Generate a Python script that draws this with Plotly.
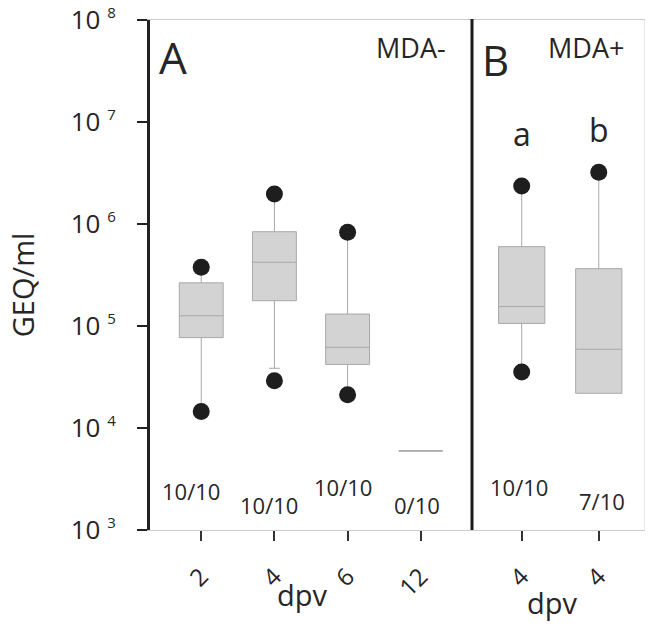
import plotly.graph_objects as go

# ---------------- data ----------------
a_dpv = ["2", "4", "6", "12"]
a_q1 = [7.7e4, 1.77e5, 4.2e4, 5.96e3]
a_median = [1.26e5, 4.22e5, 6.18e4, 5.96e3]
a_q3 = [2.65e5, 8.4e5, 1.31e5, 5.96e3]
a_whisker_low = [1.45e4, 3.85e4, 2.12e4, 5.96e3]
a_whisker_high = [3.77e5, 1.97e6, 8.3e5, 5.96e3]
a_dot_low = [1.45e4, 2.91e4, 2.12e4, None]
a_dot_high = [3.77e5, 1.97e6, 8.3e5, None]
a_counts = ["10/10", "10/10", "10/10", "0/10"]

b_dpv = ["4", "4"]
b_q1 = [1.06e5, 2.19e4]
b_median = [1.55e5, 5.92e4]
b_q3 = [6.0e5, 3.65e5]
b_whisker_low = [3.54e4, 2.19e4]
b_whisker_high = [2.36e6, 3.21e6]
b_dot_low = [3.54e4, None]
b_dot_high = [2.36e6, 3.21e6]
b_counts = ["10/10", "7/10"]
b_letters = ["a", "b"]

y_tick_vals = [1e3, 1e4, 1e5, 1e6, 1e7, 1e8]
y_tick_exponents = ["3", "4", "5", "6", "7", "8"]

# ---------------- style ----------------
FONT = "Open Sans"
TXT = "#262626"
BOX_FILL = "#d3d3d3"
BOX_LINE = "#a8a8a8"
DOT = "#1e1e1e"
SPLIT = 0.6505

y_tick_text = ["10 <sup><span style='font-size:15px'>%s</span></sup>" % e
               for e in y_tick_exponents]

fig = go.Figure()


def add_panel(xa, ya, q1, med, q3, lo, hi, dlo, dhi, caps):
    for i in range(len(q1)):
        fig.add_trace(go.Box(
            x=[i], q1=[q1[i]], median=[med[i]], q3=[q3[i]],
            lowerfence=[lo[i]], upperfence=[hi[i]],
            width=0.6, whiskerwidth=caps[i],
            fillcolor=BOX_FILL, line=dict(color=BOX_LINE, width=1),
            xaxis=xa, yaxis=ya, showlegend=False, hoverinfo="skip"))
    xs, ys = [], []
    for i in range(len(q1)):
        for v in (dlo[i], dhi[i]):
            if v is not None:
                xs.append(i)
                ys.append(v)
    fig.add_trace(go.Scatter(x=xs, y=ys, mode="markers",
                             marker=dict(size=17, color=DOT),
                             xaxis=xa, yaxis=ya, showlegend=False,
                             hoverinfo="skip"))


add_panel("x", "y", a_q1, a_median, a_q3, a_whisker_low, a_whisker_high,
          a_dot_low, a_dot_high, [0, 0.25, 0, 0])
add_panel("x2", "y2", b_q1, b_median, b_q3, b_whisker_low, b_whisker_high,
          b_dot_low, b_dot_high, [0, 0])

xcommon = dict(ticks="outside", ticklen=10, tickwidth=2, tickcolor="#333",
               showline=True, linecolor="#cccccc", linewidth=1, mirror=True,
               showgrid=False, zeroline=False, tickangle=-45,
               tickfont=dict(size=24, color=TXT, family=FONT),
               ticklabelstandoff=12, automargin=False,
               ticklabeloverflow="allow")

# the page body has an 8px margin, so the figure is 8px smaller
fig.update_layout(
    width=645, height=620,
    margin=dict(l=142, r=8, t=12, b=98),
    paper_bgcolor="white", plot_bgcolor="white",
    font=dict(family=FONT, color=TXT),
    boxmode="overlay",
    xaxis=dict(domain=[0, SPLIT], range=[-0.7, 3.7],
               tickvals=list(range(len(a_dpv))), ticktext=a_dpv, anchor="y",
               **xcommon),
    xaxis2=dict(domain=[SPLIT, 1], range=[-0.645, 1.6],
                tickvals=list(range(len(b_dpv))), ticktext=b_dpv, anchor="y2",
                **xcommon),
    yaxis=dict(type="log", range=[3, 8], tickvals=y_tick_vals,
               ticktext=y_tick_text, ticks="outside", ticklen=10, tickwidth=2,
               tickcolor="#222", showline=True, linecolor="#222", linewidth=3,
               showgrid=False, zeroline=False, ticklabelstandoff=16,
               automargin=False, ticklabeloverflow="allow",
               tickfont=dict(size=26, color=TXT, family=FONT), anchor="x"),
    yaxis2=dict(type="log", range=[3, 8], matches="y", anchor="x2",
                showticklabels=False, showgrid=False, zeroline=False,
                showline=False, ticks="", automargin=False),
)

# panel divider and right border
fig.add_shape(type="line", xref="paper", yref="paper", x0=SPLIT, x1=SPLIT,
              y0=0, y1=1.002, line=dict(color="#1a1a1a", width=3))
fig.add_shape(type="line", xref="paper", yref="paper", x0=1, x1=1,
              y0=0, y1=1, line=dict(color="#cccccc", width=1))


def ann(text, x, y, size, xref="paper", yref="paper", angle=0, xshift=0):
    fig.add_annotation(text=text, x=x, y=y, xref=xref, yref=yref,
                       showarrow=False, textangle=angle, xshift=xshift,
                       font=dict(size=size, color=TXT, family=FONT),
                       xanchor="center", yanchor="middle")


ann("GEQ/ml", -0.2585, 0.48, 29, angle=-90)
ann("dpv", 0.307, -0.127, 29)
ann("dpv", 0.8115, -0.143, 29)
ann("A", 0.0465, 0.927, 44)
ann("MDA-", 0.528, 0.947, 27)
ann("B", 0.697, 0.9216, 42)
ann("MDA+", 0.8818, 0.947, 27)

letter_y = [0.777, 0.786]
for i, t in enumerate(b_letters):
    ann(t, i, letter_y[i], 32, xref="x2")

count_y_a = [0.077, 0.049, 0.084, 0.049]
count_shift_a = [-10, -5, -5, -4]
for i, t in enumerate(a_counts):
    ann(t, i, count_y_a[i], 22, xref="x", xshift=count_shift_a[i])

count_y_b = [0.084, 0.057]
count_shift_b = [-3, 3]
for i, t in enumerate(b_counts):
    ann(t, i, count_y_b[i], 22, xref="x2", xshift=count_shift_b[i])

fig.write_html("out.html")
